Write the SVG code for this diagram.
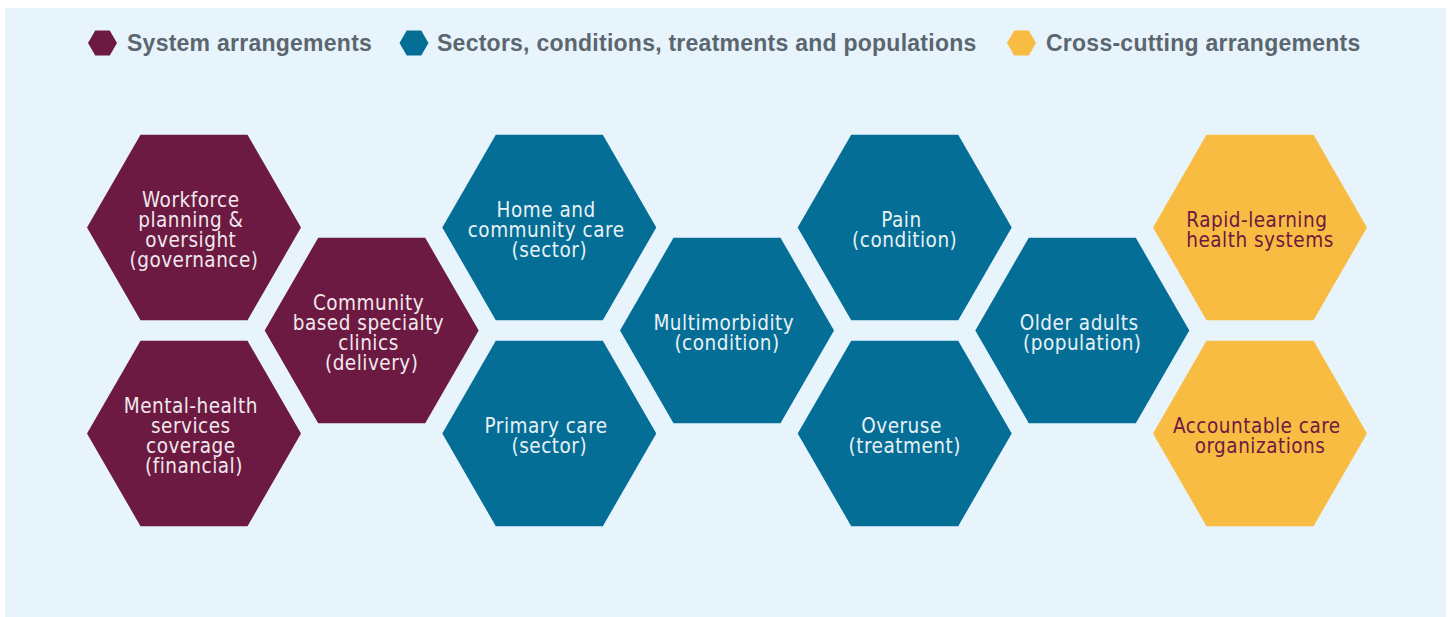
<svg xmlns="http://www.w3.org/2000/svg" xmlns:xlink="http://www.w3.org/1999/xlink" width="1450" height="617" viewBox="0 0 1450 617">
  <style>
    .bg { fill: #e7f4fb; }
    .sys { fill: #6c1a41; }
    .sec { fill: #046e97; }
    .cross { fill: #f9bc42; }
    .legend { font-family: "Liberation Sans", Arial, sans-serif; font-weight: bold; font-size: 23px; letter-spacing: 0.25px; fill: #5b6670; }
    .lbl { font-family: "DejaVu Sans Condensed", "Liberation Sans", sans-serif; font-size: 20.5px; letter-spacing: 0.5px; text-anchor: middle; }
    .lbl-sys { fill: #f1e8ee; }
    .lbl-sec { fill: #e9f1f5; }
    .lbl-cross { fill: #6c1a41; }
  </style>
  <defs>
    <polygon id="hex" points="-107,0 -53.5,-92.7 53.5,-92.7 107,0 53.5,92.7 -53.5,92.7"/>
    <polygon id="hexs" points="-14.5,0 -7.25,-12.6 7.25,-12.6 14.5,0 7.25,12.6 -7.25,12.6"/>
  </defs>
  <rect class="bg" x="5" y="8" width="1441" height="609"/>

  <g id="legend">
    <use xlink:href="#hexs" href="#hexs" class="sys" x="102.5" y="43"/>
    <text class="legend" x="127" y="51">System arrangements</text>
    <use xlink:href="#hexs" href="#hexs" class="sec" x="414" y="43"/>
    <text class="legend" x="437" y="51">Sectors, conditions, treatments and populations</text>
    <use xlink:href="#hexs" href="#hexs" class="cross" x="1021.5" y="43"/>
    <text class="legend" x="1046" y="51">Cross-cutting arrangements</text>
  </g>

  <g id="connectors"/>

  <g id="node-workforce">
    <use xlink:href="#hex" href="#hex" class="sys" x="194" y="227.5"/>
    <text class="lbl lbl-sys" x="194" y="207">
      <tspan x="194" y="207">Workforce</tspan>
      <tspan x="194" y="227">planning &amp;</tspan>
      <tspan x="194" y="247">oversight</tspan>
      <tspan x="194" y="267">(governance)</tspan>
    </text>
  </g>
  <g id="node-mental-health">
    <use xlink:href="#hex" href="#hex" class="sys" x="194" y="433.5"/>
    <text class="lbl lbl-sys" x="194" y="413">
      <tspan x="194" y="413">Mental-health</tspan>
      <tspan x="194" y="433">services</tspan>
      <tspan x="194" y="453">coverage</tspan>
      <tspan x="194" y="473">(financial)</tspan>
    </text>
  </g>
  <g id="node-community-clinics">
    <use xlink:href="#hex" href="#hex" class="sys" x="371.7" y="330.5"/>
    <text class="lbl lbl-sys" x="371.7" y="310">
      <tspan x="371.7" y="310">Community</tspan>
      <tspan x="371.7" y="330">based specialty</tspan>
      <tspan x="371.7" y="350">clinics</tspan>
      <tspan x="371.7" y="370">(delivery)</tspan>
    </text>
  </g>
  <g id="node-home-community-care">
    <use xlink:href="#hex" href="#hex" class="sec" x="549.3" y="227.5"/>
    <text class="lbl lbl-sec" x="549.3" y="217">
      <tspan x="549.3" y="217">Home and</tspan>
      <tspan x="549.3" y="237">community care</tspan>
      <tspan x="549.3" y="257">(sector)</tspan>
    </text>
  </g>
  <g id="node-primary-care">
    <use xlink:href="#hex" href="#hex" class="sec" x="549.3" y="433.5"/>
    <text class="lbl lbl-sec" x="549.3" y="433">
      <tspan x="549.3" y="433">Primary care</tspan>
      <tspan x="549.3" y="453">(sector)</tspan>
    </text>
  </g>
  <g id="node-multimorbidity">
    <use xlink:href="#hex" href="#hex" class="sec" x="727" y="330.5"/>
    <text class="lbl lbl-sec" x="727" y="330">
      <tspan x="727" y="330">Multimorbidity</tspan>
      <tspan x="727" y="350">(condition)</tspan>
    </text>
  </g>
  <g id="node-pain">
    <use xlink:href="#hex" href="#hex" class="sec" x="904.7" y="227.5"/>
    <text class="lbl lbl-sec" x="904.7" y="227">
      <tspan x="904.7" y="227">Pain</tspan>
      <tspan x="904.7" y="247">(condition)</tspan>
    </text>
  </g>
  <g id="node-overuse">
    <use xlink:href="#hex" href="#hex" class="sec" x="904.7" y="433.5"/>
    <text class="lbl lbl-sec" x="904.7" y="433">
      <tspan x="904.7" y="433">Overuse</tspan>
      <tspan x="904.7" y="453">(treatment)</tspan>
    </text>
  </g>
  <g id="node-older-adults">
    <use xlink:href="#hex" href="#hex" class="sec" x="1082.3" y="330.5"/>
    <text class="lbl lbl-sec" x="1082.3" y="330">
      <tspan x="1082.3" y="330">Older adults</tspan>
      <tspan x="1082.3" y="350">(population)</tspan>
    </text>
  </g>
  <g id="node-rapid-learning">
    <use xlink:href="#hex" href="#hex" class="cross" x="1260" y="227.5"/>
    <text class="lbl lbl-cross" x="1260" y="227">
      <tspan x="1260" y="227">Rapid-learning</tspan>
      <tspan x="1260" y="247">health systems</tspan>
    </text>
  </g>
  <g id="node-accountable-care">
    <use xlink:href="#hex" href="#hex" class="cross" x="1260" y="433.5"/>
    <text class="lbl lbl-cross" x="1260" y="433">
      <tspan x="1260" y="433">Accountable care</tspan>
      <tspan x="1260" y="453">organizations</tspan>
    </text>
  </g>
</svg>
